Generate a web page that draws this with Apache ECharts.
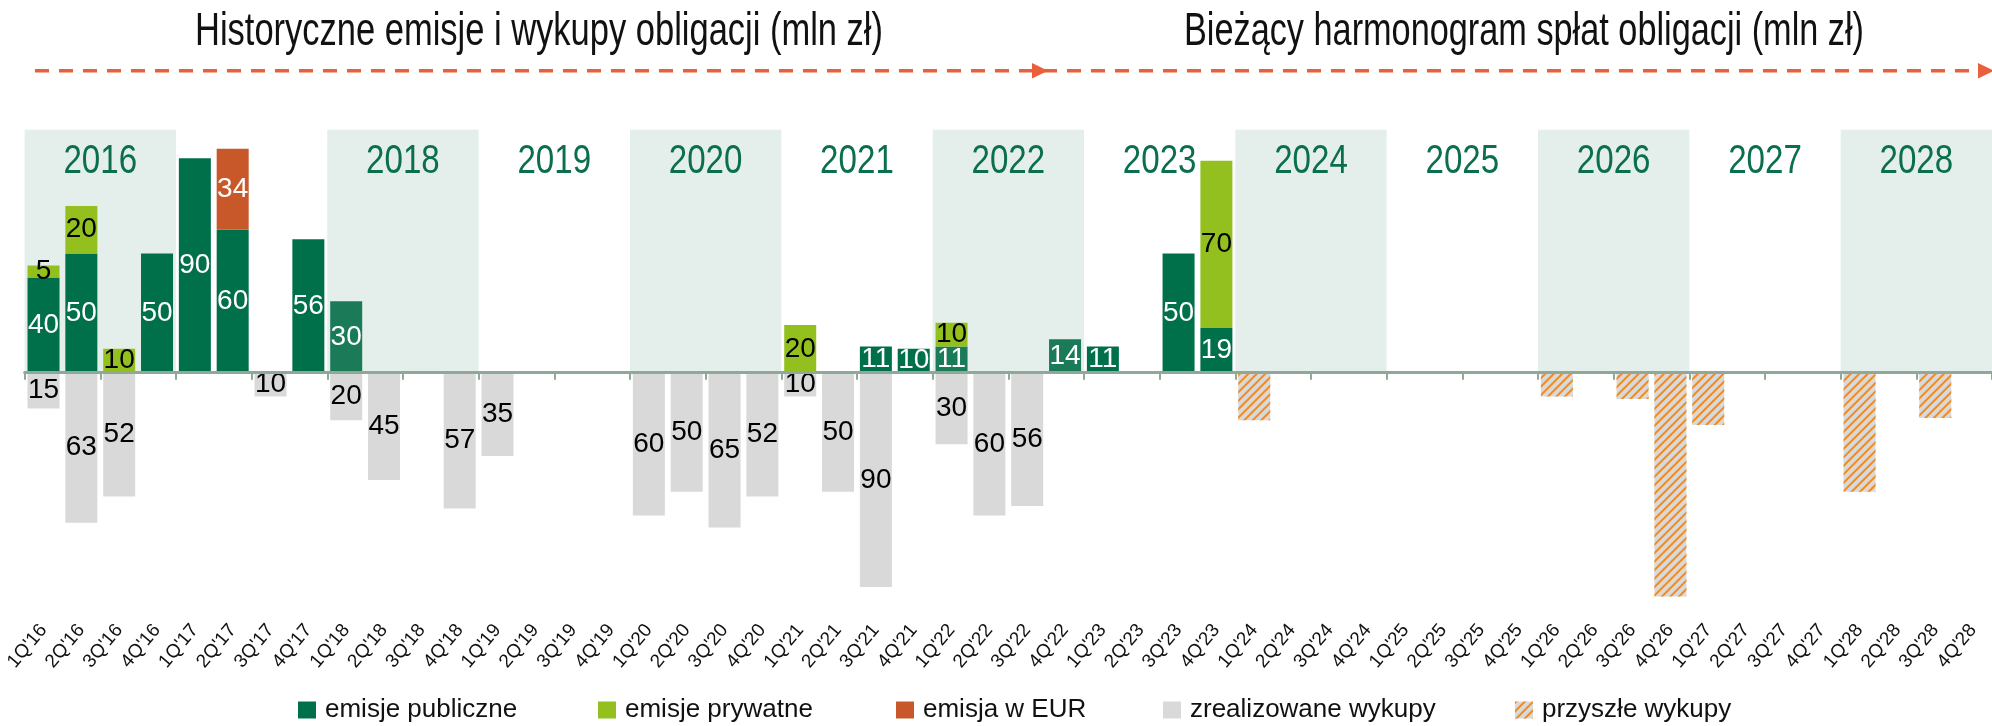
<!DOCTYPE html>
<html><head><meta charset="utf-8">
<script src="https://cdn.jsdelivr.net/npm/echarts@6/dist/echarts.min.js"></script>
<style>html,body{margin:0;padding:0;background:#fff}#c{width:1992px;height:726px}</style>
</head><body><div id="c"></div><script>
// ---- DATA ----
const quarters = [
 "1Q'16","2Q'16","3Q'16","4Q'16","1Q'17","2Q'17","3Q'17","4Q'17",
 "1Q'18","2Q'18","3Q'18","4Q'18","1Q'19","2Q'19","3Q'19","4Q'19",
 "1Q'20","2Q'20","3Q'20","4Q'20","1Q'21","2Q'21","3Q'21","4Q'21",
 "1Q'22","2Q'22","3Q'22","4Q'22","1Q'23","2Q'23","3Q'23","4Q'23",
 "1Q'24","2Q'24","3Q'24","4Q'24","1Q'25","2Q'25","3Q'25","4Q'25",
 "1Q'26","2Q'26","3Q'26","4Q'26","1Q'27","2Q'27","3Q'27","4Q'27",
 "1Q'28","2Q'28","3Q'28","4Q'28"
];
const years = ["2016","2017","2018","2019","2020","2021","2022","2023","2024","2025","2026","2027","2028"];
const shadedYears = ["2016","2018","2020","2022","2024","2026","2028"];
const labelledYears = ["2016","2018","2019","2020","2021","2022","2023","2024","2025","2026","2027","2028"];

const publicIssues = [
 40, 50, null, 50,      // 2016
 90, 60, null, 56,      // 2017
 30, null, null, null,  // 2018
 null, null, null, null,// 2019
 null, null, null, null,// 2020
 null, null, 11, 10,    // 2021
 11, null, null, 14,    // 2022
 11, null, 50, 19,      // 2023
 null, null, null, null, null, null, null, null, null, null,
 null, null, null, null, null, null, null, null, null, null // 2024-2028
];
const privateIssues = [
 5, 20, 10, null,
 null, null, null, null,
 null, null, null, null,
 null, null, null, null,
 null, null, null, null,
 20, null, null, null,
 10, null, null, null,
 null, null, null, 70,
 null, null, null, null, null, null, null, null, null, null,
 null, null, null, null, null, null, null, null, null, null
];
const eurIssues = [
 null, null, null, null,
 null, 34, null, null,
 null, null, null, null, null, null, null, null,
 null, null, null, null, null, null, null, null,
 null, null, null, null, null, null, null, null,
 null, null, null, null, null, null, null, null, null, null,
 null, null, null, null, null, null, null, null, null, null
];
const realizedRedemptions = [
 15, 63, 52, null,
 null, null, 10, null,
 20, 45, null, 57,
 35, null, null, null,
 60, 50, 65, 52,
 10, 50, 90, null,
 30, 60, 56, null,
 null, null, null, null,
 null, null, null, null, null, null, null, null, null, null,
 null, null, null, null, null, null, null, null, null, null
];
const futureRedemptions = [
 null, null, null, null, null, null, null, null,
 null, null, null, null, null, null, null, null,
 null, null, null, null, null, null, null, null,
 null, null, null, null, null, null, null, null,
 20, null, null, null,   // 2024
 null, null, null, null, // 2025
 10, null, 11, 94,       // 2026
 22, null, null, null,   // 2027
 50, null, 19, null      // 2028
];
const seriesNames = ["emisje publiczne","emisje prywatne","emisja w EUR","zrealizowane wykupy","przyszłe wykupy"];
const titleLeft = 'Historyczne emisje i wykupy obligacji (mln zł)';
const titleRight = 'Bieżący harmonogram spłat obligacji (mln zł)';

// ---- STYLE ----
const FONT = "'Liberation Sans','Arial',sans-serif";
const C_PUB = '#00704A', C_PUB_L = '#1B7B58', C_PRIV = '#93C01F', C_EUR = '#C8582A', C_GRAY = '#D9D9D9';
const C_BAND = '#E4EFEB', C_YEAR = '#0B6E4F', C_AXIS = '#8FA89A', C_ARROW = '#E8603C';
const lighterPublic = ["1Q'18","1Q'22","4Q'22"];

function textWidth(text, font) {
  const ctx = document.createElement('canvas').getContext('2d');
  ctx.font = font;
  return ctx.measureText(text).width;
}

const labelBase = {show: true, position: 'inside', fontSize: 28, fontFamily: FONT,
  formatter: p => p.value == null ? '' : Math.abs(p.value)};

const chart = echarts.init(document.getElementById('c'), null, {renderer: 'canvas'});
const GRID_LEFT = 24.6, CAT_W = 37.95;

const option = {
  animation: false,
  grid: {left: GRID_LEFT, width: CAT_W * quarters.length, top: 129.7, height: 481.2, containLabel: false},
  xAxis: [
    {type: 'category', data: quarters, gridIndex: 0, position: 'bottom', z: 5,
     axisLine: {show: true, onZero: true, lineStyle: {color: C_AXIS, width: 3}},
     axisTick: {show: true, length: 7, lineStyle: {color: C_AXIS, width: 2}},
     axisLabel: {show: false}, splitLine: {show: false}},
    {type: 'category', data: quarters, gridIndex: 0, position: 'bottom',
     axisLine: {show: false, onZero: false}, axisTick: {show: false},
     axisLabel: {show: true, interval: 0, rotate: 50, fontSize: 19, fontFamily: FONT, color: '#111', margin: 16},
     splitLine: {show: false}},
    {type: 'category', data: years, gridIndex: 0, position: 'top', show: false}
  ],
  yAxis: [{type: 'value', min: -100, max: 102, show: false, splitLine: {show: false}}],
  legend: seriesNames.map((n, i) => ({
    data: [n], left: [298, 598, 896, 1163, 1515][i], top: 697, padding: 0,
    itemWidth: 18, itemHeight: 17, itemGap: 0, selectedMode: false, icon: 'rect',
    textStyle: {fontSize: 26, fontFamily: FONT, color: '#111', lineHeight: 26, padding: [0, 0, 0, 4]}
  })),
  series: [
    {name: 'years', type: 'bar', xAxisIndex: 2, yAxisIndex: 0, barWidth: '100%', silent: true, z: 1,
     data: years.map(y => ({value: 102, itemStyle: {color: shadedYears.includes(y) ? C_BAND : 'rgba(0,0,0,0)'}})),
     label: {show: false}},
    {name: seriesNames[0], type: 'bar', stack: 'all', xAxisIndex: 0, barWidth: 32, z: 3,
     itemStyle: {color: C_PUB},
     data: publicIssues.map((v, i) => lighterPublic.includes(quarters[i]) ? {value: v, itemStyle: {color: C_PUB_L}} : v),
     label: Object.assign({}, labelBase, {color: '#fff'})},
    {name: seriesNames[1], type: 'bar', stack: 'all', xAxisIndex: 0, barWidth: 32, z: 3,
     itemStyle: {color: C_PRIV}, data: privateIssues,
     label: Object.assign({}, labelBase, {color: '#000'})},
    {name: seriesNames[2], type: 'bar', stack: 'all', xAxisIndex: 0, barWidth: 32, z: 3,
     itemStyle: {color: C_EUR}, data: eurIssues,
     label: Object.assign({}, labelBase, {color: '#fff'})},
    {name: seriesNames[3], type: 'bar', stack: 'all', xAxisIndex: 0, barWidth: 32, z: 3,
     itemStyle: {color: C_GRAY}, data: realizedRedemptions.map(v => v == null ? null : -v),
     label: Object.assign({}, labelBase, {color: '#000'})},
    {name: seriesNames[4], type: 'bar', stack: 'all', xAxisIndex: 0, barWidth: 32, z: 3,
     itemStyle: {color: C_GRAY, decal: {symbol: 'rect', symbolSize: 1, color: '#F28A1E',
        dashArrayX: [1, 0], dashArrayY: [1.6, 4], rotation: -Math.PI / 4}},
     data: futureRedemptions.map(v => v == null ? null : -v),
     label: {show: false}}
  ]
};
chart.setOption(option);

// ---- decorations: titles, arrows, year labels (positions from the year axis) ----
const TITLE_FONT = '46px ' + FONT;
const YEAR_FONT = '41px ' + FONT;
const yearScale = 73.7 / textWidth('2016', YEAR_FONT);
const graphics = [
  {id: 't1', type: 'text', x: 539, y: 32, scaleX: 688 / textWidth(titleLeft, TITLE_FONT),
   style: {text: titleLeft, font: TITLE_FONT, fill: '#111', align: 'center', verticalAlign: 'middle'}},
  {id: 't2', type: 'text', x: 1524, y: 32, scaleX: 680 / textWidth(titleRight, TITLE_FONT),
   style: {text: titleRight, font: TITLE_FONT, fill: '#111', align: 'center', verticalAlign: 'middle'}},
  {id: 'dash', type: 'line', shape: {x1: 35, y1: 70.7, x2: 1982, y2: 70.7}, style: {stroke: C_ARROW, lineWidth: 3.5, lineDash: [14, 10]}},
  {id: 'a1', type: 'polygon', shape: {points: [[1032, 63], [1048, 70.7], [1032, 78.4]]}, style: {fill: C_ARROW}},
  {id: 'a2', type: 'polygon', shape: {points: [[1978, 63], [1994, 70.7], [1978, 78.4]]}, style: {fill: C_ARROW}}
];
labelledYears.forEach((y, i) => {
  const px = chart.convertToPixel({xAxisIndex: 2}, y);
  graphics.push({id: 'y' + y, type: 'text', x: px, y: 162, scaleX: yearScale, z: 2,
    style: {text: y, font: YEAR_FONT, fill: C_YEAR, align: 'center', verticalAlign: 'middle'}});
});
chart.setOption({graphic: graphics});
</script></body></html>
